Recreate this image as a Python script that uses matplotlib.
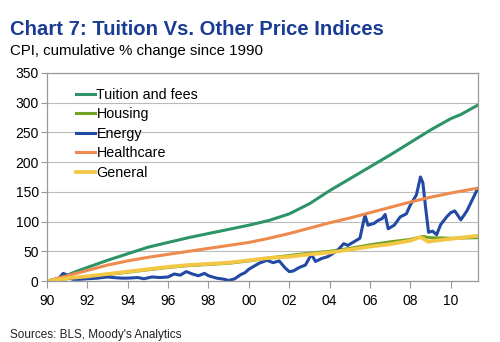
import numpy as np
import matplotlib.pyplot as plt
from matplotlib.ticker import MultipleLocator, FuncFormatter

plt.rcParams['font.family'] = ['Liberation Sans', 'DejaVu Sans']

# cumulative % change in CPI components since 1990
tuition_yr = [1990, 1990.5, 1991, 1991.5, 1992, 1993, 1994, 1995, 1996, 1997, 1998, 1999,
              2000, 2001, 2002, 2003, 2004, 2005, 2006, 2007, 2008, 2009, 2010, 2010.5, 2011.3]
tuition = [0, 4, 10, 17, 23, 35, 46, 57, 65, 73, 80, 87,
           94, 102, 113, 130, 152, 172, 192, 212, 233, 254, 273, 280, 295]

health_yr = [1990, 1991, 1992, 1993, 1994, 1995, 1996, 1997, 1998, 1999, 2000, 2001,
             2002, 2003, 2004, 2005, 2006, 2007, 2008, 2009, 2010, 2011.3]
health = [0, 9, 18, 27, 34, 40, 45, 50, 55, 60, 65, 72,
          80, 89, 98, 106, 115, 124, 133, 141, 148, 156]

housing_yr = [1990, 1991, 1992, 1993, 1994, 1995, 1996, 1997, 1998, 1999, 2000, 2001,
              2002, 2003, 2004, 2005, 2006, 2007, 2008, 2008.6, 2009, 2010, 2011.3]
housing = [0, 4, 7, 11, 15, 19, 23, 26, 28, 30, 34, 39,
           43, 47, 50, 55, 61, 66, 70, 75, 73, 72, 73]

general_yr = [1990, 1991, 1992, 1993, 1994, 1995, 1996, 1997, 1998, 1999, 2000, 2001,
              2002, 2003, 2004, 2005, 2006, 2007, 2008, 2008.5, 2008.9, 2009, 2010, 2011.3]
general = [0, 5, 8, 12, 16, 20, 24, 27, 29, 31, 35, 39,
           41, 45, 48, 53, 58, 62, 68, 74, 66, 67, 71, 76]

energy_yr = [1990, 1990.3, 1990.6, 1990.8, 1990.95, 1991.1, 1991.3, 1991.6, 1992, 1992.5,
             1993, 1993.3, 1993.7, 1994, 1994.5, 1994.8, 1995.2, 1995.6, 1996, 1996.3,
             1996.6, 1996.9, 1997.2, 1997.5, 1997.8, 1998, 1998.4, 1998.8, 1999, 1999.3,
             1999.6, 1999.8, 2000, 2000.2, 2000.5, 2000.9, 2001.2, 2001.5, 2001.8, 2002,
             2002.2, 2002.5, 2002.8, 2003.1, 2003.3, 2003.6, 2003.9, 2004.1, 2004.4, 2004.7,
             2004.9, 2005.2, 2005.5, 2005.75, 2005.9, 2006.2, 2006.4, 2006.6, 2006.75, 2006.9,
             2007.2, 2007.5, 2007.8, 2008, 2008.3, 2008.5, 2008.62, 2008.75, 2008.9, 2009.1,
             2009.3, 2009.5, 2009.8, 2010, 2010.2, 2010.5, 2010.8, 2011, 2011.3]
energy = [0, 2, 5, 13, 11, 5, 3, 3, 4, 5,
          7, 6, 5, 5, 6, 4, 7, 6, 7, 12,
          10, 16, 12, 9, 13, 9, 5, 3, 1, 4,
          11, 14, 20, 24, 30, 35, 31, 34, 22, 16,
          17, 23, 27, 45, 33, 38, 41, 45, 52, 63,
          60, 66, 72, 111, 94, 97, 102, 105, 112, 88,
          94, 108, 113, 128, 145, 175, 165, 125, 82, 84,
          78, 95, 108, 115, 118, 103, 118, 132, 153]

x_ticks = [1990, 1992, 1994, 1996, 1998, 2000, 2002, 2004, 2006, 2008, 2010]

fig = plt.figure(figsize=(5, 3.42), dpi=100)
ax = fig.add_axes([0.094, 0.178, 0.862, 0.609])

lw = 2.2
ax.plot(tuition_yr, tuition, color='#2E9468', lw=lw, label='Tuition and fees')
ax.plot(housing_yr, housing, color='#6FA225', lw=lw, label='Housing')
ax.plot(energy_yr, energy, color='#2249A3', lw=lw, label='Energy')
ax.plot(health_yr, health, color='#EE8A4E', lw=lw, label='Healthcare')
ax.plot(general_yr, general, color='#F3C744', lw=lw + 0.5, label='General')

ax.set_xlim(1990, 2011.35)
ax.set_ylim(0, 350)
ax.yaxis.set_major_locator(MultipleLocator(50))
ax.set_xticks(x_ticks)
ax.xaxis.set_major_formatter(FuncFormatter(lambda v, p: '%02d' % (int(round(v)) % 100)))

ax.grid(axis='y', color='#BBBBBB', lw=0.8)
ax.set_axisbelow(True)
for s in ax.spines.values():
    s.set_color('#999999')
    s.set_linewidth(0.9)
ax.tick_params(axis='both', colors='#999999', labelcolor='black', labelsize=10, direction='out')
ax.tick_params(axis='x', length=5, pad=4)
ax.tick_params(axis='y', length=4, pad=2)

leg = ax.legend(loc='upper left', bbox_to_anchor=(0.055, 0.955), frameon=False, fontsize=10.3,
                handlelength=1.3, handletextpad=0.1, labelspacing=0.38, borderaxespad=0)

fig.text(0.02, 0.898, 'Chart 7: Tuition Vs. Other Price Indices', fontsize=14.6,
         fontweight='bold', color='#1B3C94')
fig.text(0.02, 0.84, 'CPI, cumulative % change since 1990', fontsize=10.8, color='black')
fig.text(0.02, 0.012, "Sources: BLS, Moody's Analytics", fontsize=8.5, color='#222222')

fig.savefig('out.png', dpi=100)
